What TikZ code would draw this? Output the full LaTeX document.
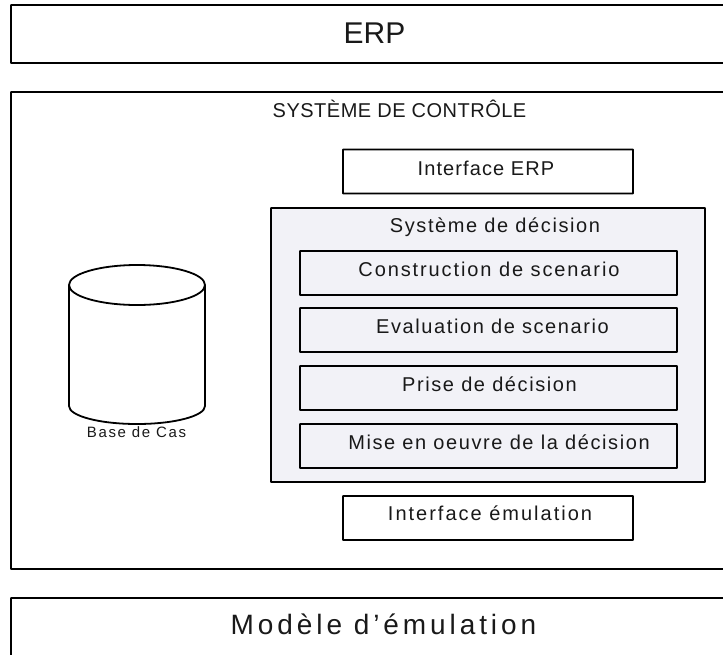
\documentclass[tikz,border=0pt]{standalone}
\usepackage{fontspec}
\setmainfont{Liberation Sans}
\definecolor{grisclair}{RGB}{242,242,247}
\newcommand{\lettres}[3]{\fontsize{#1}{#1}\selectfont\addfontfeature{LetterSpace=#2}#3}
\tikzset{
  bloc/.style={draw, line width=1.8pt, rounded corners=0.5pt, anchor=north west, inner sep=0pt, outer sep=0pt},
  grisbloc/.style={bloc, fill=grisclair},
  titre/.style={inner sep=0pt, anchor=base, text=black!90}
}
\begin{document}
\begin{tikzpicture}[x=1pt,y=-1pt]
  \clip (0,0) rectangle (723,654);
  \node[bloc, minimum width=730pt, minimum height=58pt] (erp) at (11,5) {};
  \node[titre] (erptxt) at (374.5,43) {\lettres{30}{0}{ERP}};
  \node[bloc, minimum width=730pt, minimum height=477pt] (ctrl) at (11,92) {};
  \node[titre] (ctrltxt) at (399.5,117) {\lettres{20}{2.5}{SYSTÈME DE CONTRÔLE}};
  \node[bloc, minimum width=290pt, minimum height=44pt] (iferp) at (343,149.5) {};
  \node[titre] (iferptxt) at (486,175) {\lettres{20}{5.5}{Interface ERP}};
  \node[grisbloc, minimum width=434pt, minimum height=274pt] (dec) at (271,208) {};
  \node[titre] (dectxt) at (495,232) {\lettres{20}{8}{Système de décision}};
  \foreach \nom/\y/\tx/\esp/\txt in {a/251/489/9.5/Construction de scenario,
                                b/308/492.5/8/Evaluation de scenario,
                                c/366/489.5/8/Prise de décision,
                                d/424/499/8/Mise en oeuvre de la décision} {
    \node[grisbloc, minimum width=377pt, minimum height=44pt] (\nom) at (300,\y) {};
    \node[titre] (\nom txt) at (\tx,\y+25) {\lettres{20}{\esp}{\txt}};
  }
  \node[bloc, minimum width=290pt, minimum height=44pt] (ifemu) at (343,496) {};
  \node[titre] (ifemutxt) at (490,520) {\lettres{20}{10}{Interface émulation}};
  \node[bloc, minimum width=730pt, minimum height=70pt] (emu) at (11,598) {};
  \node[titre] (emutxt) at (383.5,634) {\lettres{28}{14}{Modèle d’émulation}};
  % base de cas
  \draw[line width=1.8pt] (69,285) -- (69,406) arc[start angle=180, end angle=0, x radius=68, y radius=18] -- (205,285);
  \draw[line width=1.8pt] (137,285) ellipse[x radius=68, y radius=20];
  \node[titre] (base) at (136.5,437) {\lettres{15}{11}{Base de Cas}};
\end{tikzpicture}
\end{document}
